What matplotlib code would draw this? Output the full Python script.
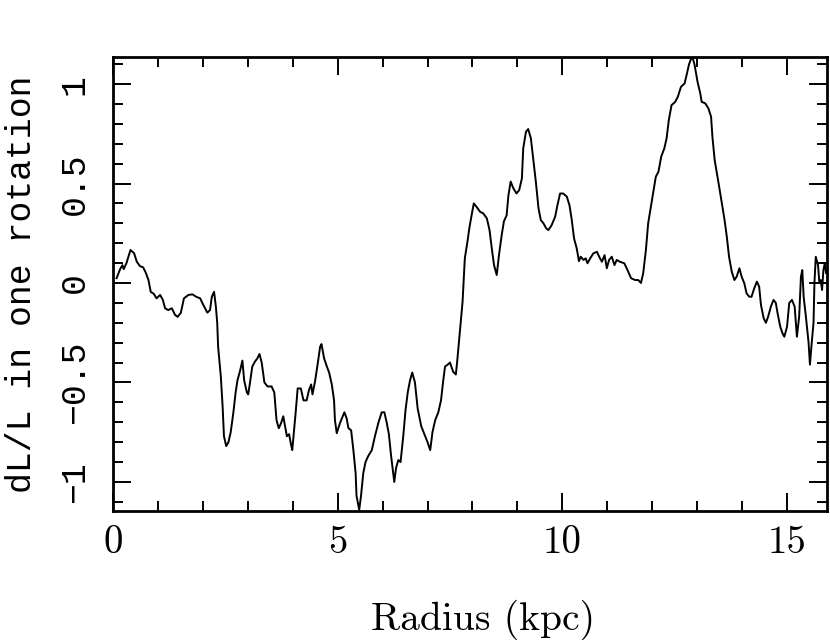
import matplotlib
matplotlib.use("Agg")
import matplotlib.pyplot as plt
import matplotlib.ticker as ticker

# Radius (kpc) and fractional change of L in one rotation
radius = [
    0.08, 0.16, 0.21, 0.24, 0.30, 0.39, 0.47, 0.53, 0.60, 0.67,
    0.73, 0.79, 0.84, 0.91, 0.97, 1.05, 1.11, 1.16, 1.23, 1.31,
    1.38, 1.44, 1.51, 1.58, 1.68, 1.77, 1.85, 1.94, 2.01, 2.10,
    2.16, 2.20, 2.25, 2.29, 2.32, 2.34, 2.40, 2.44, 2.47, 2.52,
    2.57, 2.62, 2.68,
    2.73, 2.77, 2.83, 2.88, 2.92, 2.98, 3.01, 3.05, 3.10, 3.16,
    3.21, 3.26, 3.31, 3.37, 3.44, 3.53, 3.59, 3.64, 3.69, 3.74,
    3.79, 3.83, 3.87, 3.92, 3.96, 3.99, 4.03, 4.07, 4.11, 4.18,
    4.24, 4.31, 4.36, 4.41, 4.44, 4.50, 4.56, 4.61, 4.64, 4.70,
    4.76, 4.81, 4.87, 4.92, 4.94, 4.98, 5.05, 5.15,
    5.20, 5.24, 5.30, 5.35, 5.40, 5.42, 5.48, 5.52, 5.57, 5.62,
    5.68, 5.76, 5.83, 5.91, 5.98, 6.04, 6.09, 6.14, 6.19, 6.24,
    6.26, 6.30, 6.35, 6.40, 6.46, 6.51, 6.56, 6.61, 6.66, 6.72,
    6.78, 6.86, 6.93, 7.00, 7.06, 7.11, 7.17, 7.24, 7.30, 7.35,
    7.39, 7.45, 7.50, 7.57, 7.63, 7.66,
    7.72, 7.78, 7.83, 7.89, 7.93, 7.98, 8.03, 8.09, 8.17, 8.24,
    8.32, 8.38, 8.43, 8.48, 8.54, 8.59, 8.65, 8.70, 8.76, 8.80,
    8.85, 8.91, 8.98, 9.04, 9.10, 9.13, 9.19, 9.24, 9.30, 9.35,
    9.41, 9.47, 9.52, 9.58, 9.64, 9.69, 9.76, 9.84, 9.89, 9.95,
    10.02, 10.10, 10.16, 10.21, 10.26, 10.32, 10.37,
    10.41, 10.47, 10.52, 10.56, 10.62, 10.69, 10.77, 10.82, 10.88, 10.94,
    10.99, 11.04, 11.10, 11.16, 11.21, 11.28, 11.38, 11.45, 11.53, 11.62,
    11.69, 11.75, 11.80, 11.86, 11.91, 11.97, 12.03, 12.08, 12.14, 12.20,
    12.27, 12.32, 12.37, 12.43, 12.51, 12.57, 12.64, 12.72, 12.77, 12.82,
    12.87, 12.89, 12.94,
    13.01, 13.07, 13.10, 13.18, 13.25, 13.31, 13.34, 13.39, 13.44, 13.49,
    13.55, 13.61, 13.66, 13.71, 13.77, 13.83, 13.88, 13.94, 13.99, 14.05,
    14.10, 14.16, 14.21, 14.27, 14.33, 14.38, 14.42, 14.48, 14.53, 14.58,
    14.64, 14.70, 14.75, 14.79, 14.85, 14.90, 14.94, 15.00, 15.05, 15.11,
    15.17, 15.22, 15.27, 15.31, 15.34, 15.37, 15.42, 15.48, 15.51, 15.55,
    15.59, 15.61, 15.64, 15.69, 15.72, 15.75, 15.78, 15.81, 15.84, 15.87,
]

dl_over_l = [
    0.024, 0.07, 0.09, 0.07, 0.10, 0.166, 0.15, 0.107, 0.085, 0.079,
    0.052, 0.015, -0.044, -0.055, -0.077, -0.06, -0.085, -0.127, -0.136, -0.127,
    -0.16, -0.17, -0.15, -0.077, -0.06, -0.057, -0.069, -0.077, -0.11, -0.149,
    -0.136, -0.069, -0.044, -0.119, -0.20, -0.32, -0.47, -0.62, -0.77, -0.82,
    -0.80, -0.75, -0.65,
    -0.55, -0.49, -0.44, -0.39, -0.49, -0.55, -0.56, -0.50, -0.42, -0.395,
    -0.38, -0.357, -0.40, -0.50, -0.52, -0.52, -0.55, -0.69, -0.73, -0.705,
    -0.67, -0.72, -0.77, -0.76, -0.81, -0.84, -0.74, -0.64, -0.53, -0.53,
    -0.59, -0.59, -0.54, -0.51, -0.56, -0.49, -0.40, -0.32, -0.307, -0.38,
    -0.42, -0.45, -0.51, -0.59, -0.69, -0.755, -0.705, -0.65,
    -0.68, -0.73, -0.74, -0.84, -0.956, -1.07, -1.14, -1.07, -0.956, -0.90,
    -0.87, -0.84, -0.77, -0.70, -0.65, -0.65, -0.70, -0.76, -0.87, -0.965,
    -1.0, -0.93, -0.89, -0.90, -0.77, -0.64, -0.55, -0.49, -0.45, -0.50,
    -0.63, -0.72, -0.76, -0.80, -0.84, -0.75, -0.69, -0.65, -0.59, -0.49,
    -0.42, -0.41, -0.40, -0.446, -0.46, -0.395,
    -0.245, -0.094, 0.124, 0.21, 0.275, 0.34, 0.40, 0.383, 0.358, 0.35,
    0.325, 0.266, 0.174, 0.09, 0.04, 0.14, 0.24, 0.31, 0.34, 0.44,
    0.51, 0.476, 0.45, 0.467, 0.526, 0.677, 0.76, 0.774, 0.727, 0.627,
    0.51, 0.375, 0.317, 0.30, 0.275, 0.266, 0.29, 0.333, 0.39, 0.45,
    0.45, 0.434, 0.39, 0.317, 0.225, 0.174, 0.11,
    0.132, 0.116, 0.124, 0.099, 0.124, 0.149, 0.157, 0.132, 0.107, 0.14,
    0.074, 0.116, 0.132, 0.09, 0.116, 0.107, 0.099, 0.065, 0.024, 0.015,
    0.015, 0.0, 0.05, 0.166, 0.30, 0.383, 0.467, 0.534, 0.56, 0.635,
    0.677, 0.727, 0.82, 0.894, 0.91, 0.936, 0.986, 1.003, 1.05, 1.10,
    1.13, 1.14, 1.10,
    1.01, 0.953, 0.911, 0.903, 0.878, 0.836, 0.735, 0.618, 0.551, 0.484,
    0.40, 0.317, 0.233, 0.132, 0.057, 0.015, 0.032, 0.074, 0.032, -0.002,
    -0.052, -0.069, -0.069, -0.027, 0.007, -0.018, -0.11, -0.177, -0.20, -0.169,
    -0.119, -0.085, -0.10, -0.152, -0.22, -0.253, -0.27, -0.22, -0.10, -0.085,
    -0.119, -0.27, -0.169, 0.032, 0.065, -0.069, -0.169, -0.30, -0.41, -0.30,
    -0.20, 0.0, 0.132, 0.09, 0.0, 0.015, -0.035, 0.065, 0.099, 0.05,
]

x_ticks = [0, 5, 10, 15]
x_tick_labels = ["0", "5", "10", "15"]
y_ticks = [-1, -0.5, 0, 0.5, 1]
y_tick_labels = ["\u22121", "\u22120.5", "0", "0.5", "1"]

SERIF = "cmr10"
MONO = "Liberation Mono"

fig = plt.figure(figsize=(8.3, 6.4), dpi=100)
ax = fig.add_axes([0.1361, 0.2016, 0.8603, 0.7093])

ax.plot(radius, dl_over_l, color="black", linewidth=1.4)

ax.set_xlim(0, 15.89)
ax.set_ylim(-1.146, 1.136)

ax.set_xticks(x_ticks)
ax.set_xticklabels(x_tick_labels, family=SERIF, fontsize=28)
ax.xaxis.set_minor_locator(ticker.MultipleLocator(1))
ax.set_yticks(y_ticks)
ax.set_yticklabels(y_tick_labels, family=MONO, fontsize=25,
                   rotation=90, va="center")
ax.yaxis.set_minor_locator(ticker.MultipleLocator(0.1))

ax.tick_params(which="both", direction="in", top=True, right=True,
               width=1.4, color="black")
ax.tick_params(which="major", length=13)
ax.tick_params(which="minor", length=7)
ax.tick_params(axis="x", which="major", pad=10)
ax.tick_params(axis="y", which="major", pad=16)

for sp in ax.spines.values():
    sp.set_linewidth(2)

ax.set_xlabel("Radius (kpc)", family=SERIF, fontsize=28.5)
ax.xaxis.set_label_coords(0.518, -0.196)
ax.set_ylabel("dL/L in one rotation", family=MONO, fontsize=25, labelpad=14)

fig.savefig("out.png", dpi=100)
